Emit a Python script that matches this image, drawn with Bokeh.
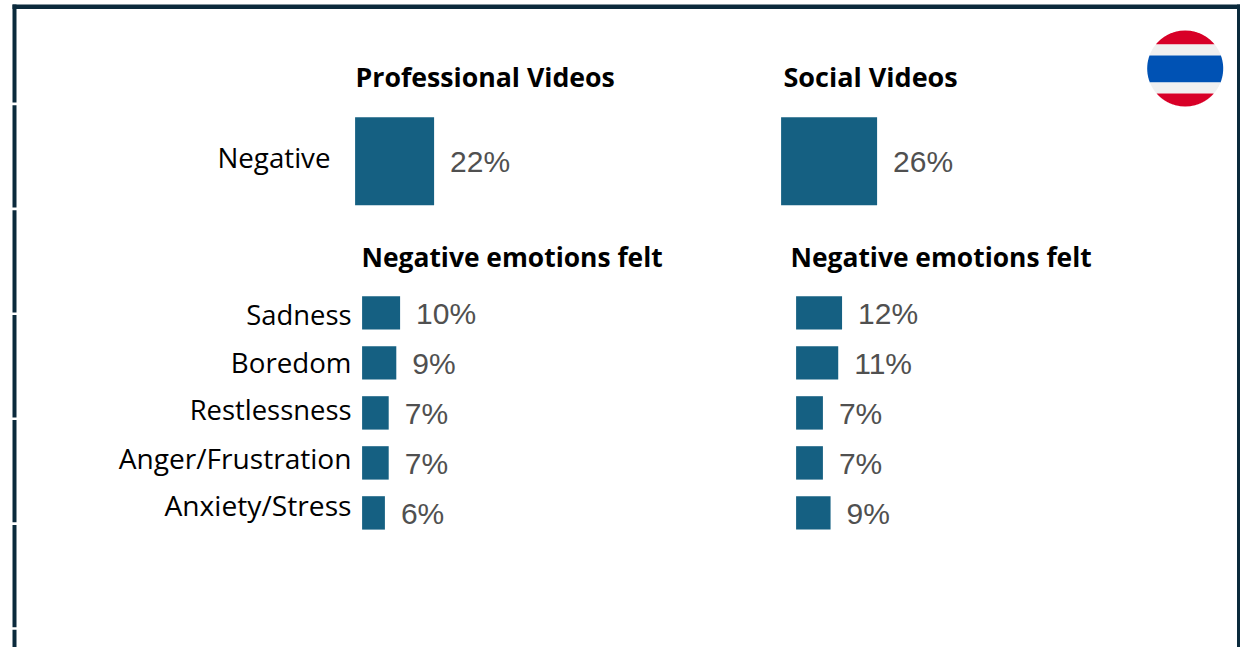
from bokeh.plotting import figure
from bokeh.models import Range1d
from bokeh.core.properties import value
from bokeh.embed import file_html
from bokeh.resources import INLINE
import numpy as np

# ---- data ----
emotions = ["Sadness", "Boredom", "Restlessness", "Anger/Frustration", "Anxiety/Stress"]
prof_negative = [22]
social_negative = [26]
prof_emotions = [10, 9, 7, 7, 6]
social_emotions = [12, 11, 7, 7, 9]
panel_titles = ["Professional Videos", "Social Videos"]
sub_title = "Negative emotions felt"
row_label = "Negative"

# ---- layout (window pixels) ----
W, H = 1240, 647
BAR = "#156082"
FRAME = "#0B2A3C"
VAL = "#505050"
SANS = value("Open Sans")
ARIAL = value("Liberation Sans")

p = figure(width=W, height=H, output_backend="svg", toolbar_location=None,
           x_range=Range1d(0, W), y_range=Range1d(H, 0),
           min_border=0, outline_line_color=None, background_fill_color="white")
p.xaxis.visible = False
p.yaxis.visible = False
p.grid.visible = False

# frame
p.quad(left=12, right=1240, top=4, bottom=8.5, fill_color=FRAME, line_color=None)
p.quad(left=1236.5, right=1239.5, top=4, bottom=647, fill_color=FRAME, line_color=None)
seg_top = [4, 104.8, 209.7, 314.6, 419.5, 524.4, 629.3]
seg_bot = [102, 207, 312, 416.9, 521.8, 626.7, 647]
p.quad(left=12, right=16, top=seg_top, bottom=seg_bot, fill_color=FRAME, line_color=None)

# panels: own value scale for each group of bars
def scale(name, base, px_per_pct):
    p.extra_x_ranges[name] = Range1d((0 - base) / px_per_pct, (W - base) / px_per_pct)

scale("profTop", 354.6, 79 / 22)
scale("socTop", 780.6, 96 / 26)
scale("profEmo", 361.6, 3.8)
scale("socEmo", 795.6, 3.83)
PITCH = 50.0
Y0 = 312.4
p.extra_y_ranges["rows"] = Range1d((H - Y0) / PITCH, (0 - Y0) / PITCH)

rows = list(range(len(emotions)))
for name, vals in (("profEmo", prof_emotions), ("socEmo", social_emotions)):
    p.hbar(y=rows, left=0, right=vals, height=33.4 / PITCH, fill_color=BAR, line_color=None,
           x_range_name=name, y_range_name="rows")
    p.text(x=vals, y=[r + 0.01 for r in rows], text=[f"{v}%" for v in vals], x_offset=16,
           text_font=ARIAL, text_font_size="30px", text_color=VAL,
           text_align="left", text_baseline="middle",
           x_range_name=name, y_range_name="rows")

for name, vals in (("profTop", prof_negative), ("socTop", social_negative)):
    p.hbar(y=[160.7], left=0, right=vals, height=88, fill_color=BAR, line_color=None, x_range_name=name)
    p.text(x=vals, y=[161.2], text=[f"{v}%" for v in vals], x_offset=16,
           text_font=ARIAL, text_font_size="30px", text_color=VAL,
           text_align="left", text_baseline="middle", x_range_name=name)

# texts
p.text(x=[355], y=[76], text=panel_titles[:1], text_font=SANS, text_font_size="26.7px",
       text_font_style="bold", text_color="black", text_align="left", text_baseline="middle")
p.text(x=[783], y=[76], text=panel_titles[1:], text_font=SANS, text_font_size="27px",
       text_font_style="bold", text_color="black", text_align="left", text_baseline="middle")
p.text(x=[361, 790], y=[256, 256], text=[sub_title, sub_title], text_font=SANS, text_font_size="26.4px",
       text_font_style="bold", text_color="black", text_align="left", text_baseline="middle")
p.text(x=[330], y=[156], text=[row_label], text_font=SANS, text_font_size="27.7px",
       text_color="black", text_align="right", text_baseline="middle")
p.text(x=[351] * 5, y=[314 + 47.7 * r for r in rows], text=emotions, text_font=SANS,
       text_font_size=["27.4px", "27.7px", "27.4px", "28.1px", "28.2px"],
       text_color="black", text_align="right", text_baseline="middle")

# flag: horizontal bands clipped to a circle
cx, cy, r = 1184.7, 68, 38
bands = [(30, 44, "#D80027"), (44, 55, "#F0F0F0"), (55, 82, "#0052B4"), (82, 93, "#F0F0F0"), (93, 106, "#D80027")]
for y0, y1, col in bands:
    ys = np.linspace(y0, y1, 40)
    half = np.sqrt(np.maximum(r ** 2 - (ys - cy) ** 2, 0))
    p.patch(np.concatenate([cx - half, (cx + half)[::-1]]), np.concatenate([ys, ys[::-1]]),
            fill_color=col, line_color=None)

open("out.html", "w").write(file_html(p, INLINE))
